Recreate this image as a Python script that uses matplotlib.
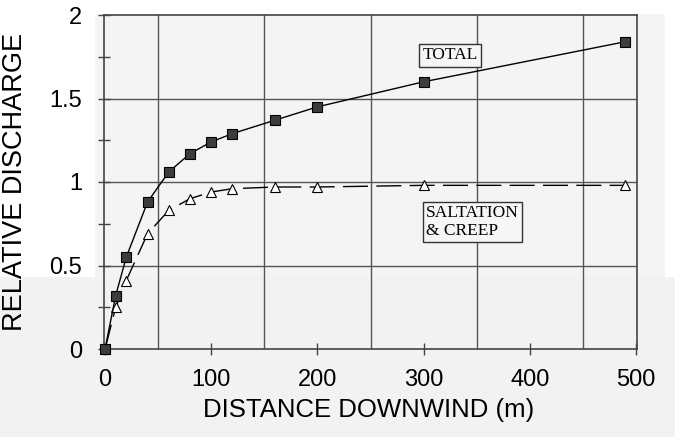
import matplotlib.pyplot as plt
from matplotlib.patches import Rectangle

# distance downwind (m)
dist = [0, 10, 20, 40, 60, 80, 100, 120, 160, 200, 300, 490]
total = [0, 0.32, 0.55, 0.88, 1.06, 1.17, 1.24, 1.29, 1.37, 1.45, 1.60, 1.84]
saltation = [0, 0.25, 0.41, 0.69, 0.83, 0.90, 0.94, 0.96, 0.97, 0.97, 0.98, 0.98]

x_ticks = [0, 100, 200, 300, 400, 500]
y_ticks = [0, 0.5, 1, 1.5, 2]
y_minor = [0.25, 0.75, 1.25, 1.75]
x_grid = [50, 150, 250, 350, 450]
y_grid = [0.5, 1, 1.5]

plt.rcParams['font.family'] = ['Liberation Sans', 'DejaVu Sans']

fig = plt.figure(figsize=(6.75, 4.37), dpi=100)
fig.patch.set_facecolor('white')

# scanned paper areas
fig.patches.append(Rectangle((0, 0), 1, 1 - 277/437, transform=fig.transFigure,
                             facecolor='#f2f2f2', edgecolor='none', zorder=-10))
fig.patches.append(Rectangle((95/675, 1 - 277/437), 570/675, 263/437,
                             transform=fig.transFigure,
                             facecolor='#f4f4f4', edgecolor='none', zorder=-10))

ax = fig.add_axes([104/675, 1 - 349/437, 533/675, 334/437])
ax.set_facecolor('none')

for g in x_grid:
    ax.axvline(g, color='#555555', lw=1.0, zorder=1)
for g in y_grid:
    ax.axhline(g, color='#555555', lw=1.0, zorder=1)

ax.plot(dist, total, color='black', lw=1.0, marker='s', markersize=6.5,
        markerfacecolor='#3c3c3c', markeredgecolor='black', markeredgewidth=0.8,
        clip_on=False, zorder=4)
ax.plot(dist, saltation, color='black', lw=1.0, dashes=(18, 6), marker='^',
        markersize=7.5, markerfacecolor='white', markeredgecolor='black',
        markeredgewidth=0.8, clip_on=False, zorder=3)

ax.set_xlim(-1, 501)
ax.set_ylim(0, 2)
ax.set_xticks(x_ticks)
ax.set_yticks(y_ticks)
ax.set_yticks(y_minor, minor=True)
ax.set_yticklabels(['0', '0.5', '1', '1.5', '2'])
ax.tick_params(axis='both', which='both', direction='inout', length=8.6,
               width=1.0, color='#444444', labelsize=17)
ax.tick_params(axis='y', pad=11.5)
ax.tick_params(axis='x', pad=10)

for s in ax.spines.values():
    s.set_color('#444444')
    s.set_linewidth(1.2)

ax.set_xlabel('DISTANCE DOWNWIND (m)', fontsize=18.5)
ax.set_ylabel('RELATIVE DISCHARGE', fontsize=19.5)
ax.xaxis.set_label_coords(0.497, -0.147)
ax.yaxis.set_label_coords(-0.143, 0.5)

box = dict(boxstyle='square,pad=0.2', facecolor='#f6f6f6', edgecolor='#333333', lw=1.0)
ax.text(325, 1.76, 'TOTAL', family='Liberation Serif', fontsize=12.5,
        ha='center', va='center', bbox=box, zorder=5)
ax.text(346, 0.76, 'SALTATION\n& CREEP', family='Liberation Serif', fontsize=12.5,
        ha='center', va='center', multialignment='left', linespacing=1.1,
        bbox=box, zorder=5)

fig.savefig('out.png', dpi=100)
